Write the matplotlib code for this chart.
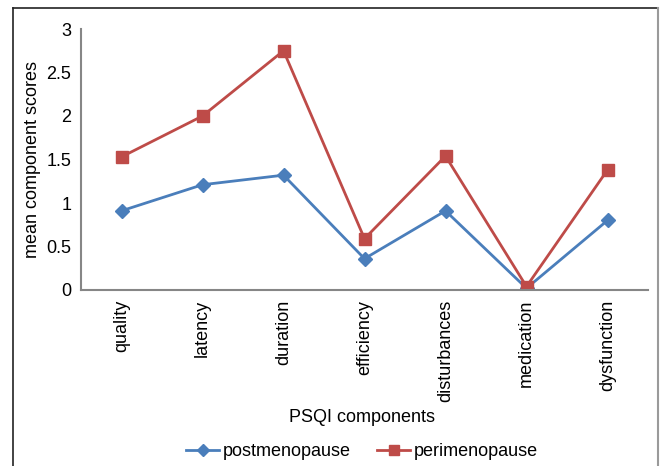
import matplotlib.pyplot as plt
from matplotlib.lines import Line2D

plt.rcParams['font.family'] = ['Liberation Sans', 'DejaVu Sans']

# PSQI component means per group
components = ['quality', 'latency', 'duration', 'efficiency',
              'disturbances', 'medication', 'dysfunction']
postmenopause = [0.91, 1.21, 1.32, 0.36, 0.91, 0.02, 0.80]
perimenopause = [1.53, 2.00, 2.75, 0.59, 1.54, 0.04, 1.38]
yticks = [0, 0.5, 1, 1.5, 2, 2.5, 3]
yticklabels = ['0', '0.5', '1', '1.5', '2', '2.5', '3']

blue = '#4A7EBB'
red = '#BE4B48'
fs = 13

W, H = 661, 466
fig = plt.figure(figsize=(W / 100, H / 100), dpi=100)
ax = fig.add_axes([81 / W, 1 - 290 / H, (648 - 81) / W, (290 - 29) / H])

x = list(range(len(components)))
ax.plot(x, postmenopause, color=blue, lw=2.0, marker='D', ms=7.5,
        label='postmenopause')
ax.plot(x, perimenopause, color=red, lw=2.0, marker='s', ms=9,
        label='perimenopause')

ax.set_xlim(-0.5, len(components) - 0.5)
ax.set_ylim(0, 3)
ax.set_xticks(x)
ax.set_xticklabels(components, rotation=90, fontsize=fs)
ax.set_yticks(yticks)
ax.set_yticklabels(yticklabels, fontsize=fs)
ax.tick_params(axis='both', length=0)
ax.tick_params(axis='x', pad=7)
ax.tick_params(axis='y', pad=7)

for side in ['top', 'right']:
    ax.spines[side].set_visible(False)
for side in ['left', 'bottom']:
    ax.spines[side].set_color('#868686')
    ax.spines[side].set_linewidth(1.5)

ax.set_ylabel('mean component scores', fontsize=fs)
ax.yaxis.set_label_coords((41 - 81) / (648 - 81), 0.5)
fig.text(362 / W, 1 - 417 / H, 'PSQI components', fontsize=fs,
         ha='center', va='center')

fig.legend(loc='center', bbox_to_anchor=(362 / W, 1 - 452 / H), ncol=2,
           frameon=False, fontsize=fs, handlelength=1.8, handletextpad=0.2,
           columnspacing=1.5, markerscale=0.85)

# outer chart border: dark left/top, grey right
fig.add_artist(Line2D([13 / W, 13 / W], [0, 1 - 8 / H], color='#222222',
                      lw=1.2, transform=fig.transFigure))
fig.add_artist(Line2D([13 / W, 658 / W], [1 - 8 / H, 1 - 8 / H],
                      color='#222222', lw=1.2, transform=fig.transFigure))
fig.add_artist(Line2D([658 / W, 658 / W], [0, 1 - 8 / H], color='#9a9a9a',
                      lw=1.5, transform=fig.transFigure))

fig.savefig('out.png', dpi=100)
